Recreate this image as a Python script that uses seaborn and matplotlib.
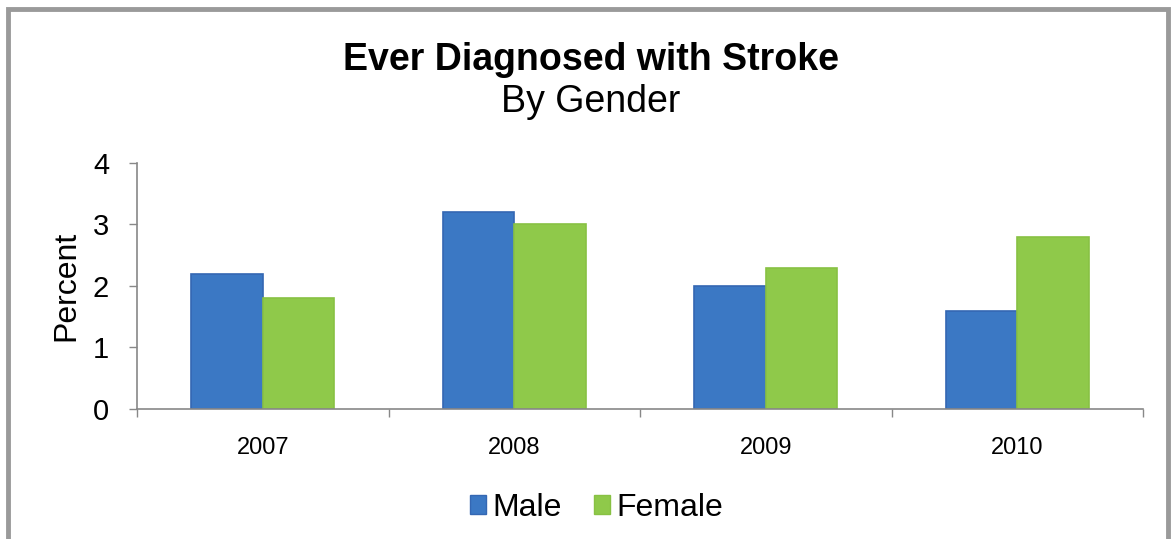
#!/usr/bin/env python3

import pandas as pd
import matplotlib.pyplot as plt
import matplotlib.patches as patches
import seaborn as sns

# Chart data
years = ["2007", "2008", "2009", "2010"]
male = [2.2, 3.2, 2.0, 1.6]
female = [1.8, 3.0, 2.3, 2.8]
y_ticks = [0, 1, 2, 3, 4]


def build_frame():
    """Long-form table for seaborn"""
    rows = []
    for yr, m, f in zip(years, male, female):
        rows.append({"Year": yr, "Gender": "Male", "Percent": m})
        rows.append({"Year": yr, "Gender": "Female", "Percent": f})
    return pd.DataFrame(rows)


def main():
    sns.set_style("white")
    plt.rcParams['font.family'] = ['Liberation Sans', 'DejaVu Sans']
    plt.rcParams['text.color'] = 'black'
    plt.rcParams['axes.labelcolor'] = 'black'
    plt.rcParams['xtick.color'] = 'black'
    plt.rcParams['ytick.color'] = 'black'

    df = build_frame()

    fig = plt.figure(figsize=(11.74, 5.39), dpi=100)
    ax = fig.add_axes([0.1167, 0.2412, 0.8569, 0.4564])

    palette = {"Male": "#3b78c4", "Female": "#8fc94a"}
    sns.barplot(data=df, x="Year", y="Percent", hue="Gender", order=years,
                hue_order=["Male", "Female"], palette=palette, width=0.57,
                saturation=1, ax=ax, legend=False)

    # slightly darker outline on the bars
    edge = {"Male": "#3467b3", "Female": "#88c143"}
    for container, g in zip(ax.containers, ["Male", "Female"]):
        for bar in container:
            bar.set_edgecolor(edge[g])
            bar.set_linewidth(1.2)

    ax.set_xlim(-0.5, len(years) - 0.5)
    ax.set_ylim(0, 4)
    ax.set_yticks(y_ticks)
    ax.set_xlabel("")
    ax.set_ylabel("Percent", fontsize=23, labelpad=8)

    # ticks at category boundaries on the x axis
    ax.set_xticks([i - 0.5 for i in range(len(years) + 1)], minor=True)
    ax.tick_params(axis="x", which="major", length=0, labelsize=17, pad=20,
                   bottom=True)
    ax.tick_params(axis="x", which="minor", length=6, width=1,
                   color="#888888", direction="out", bottom=True)
    ax.tick_params(axis="y", length=6, width=1, color="#888888",
                   direction="out", labelsize=21, pad=14, left=True)

    sns.despine(ax=ax)
    for side in ["left", "bottom"]:
        ax.spines[side].set_color("#888888")
        ax.spines[side].set_linewidth(1.2)

    fig.text(0.503, 0.889, "Ever Diagnosed with Stroke", ha="center",
             va="center", fontsize=27, fontweight="bold")
    fig.text(0.503, 0.810, "By Gender", ha="center", va="center", fontsize=27)

    handles = [patches.Patch(facecolor=palette[g], edgecolor=edge[g], label=g)
               for g in ["Male", "Female"]]
    fig.legend(handles=handles, loc="center", bbox_to_anchor=(0.508, 0.058),
               ncol=2, frameon=False, fontsize=23, handlelength=0.5,
               handleheight=0.5, handletextpad=0.2, columnspacing=1.0)

    # grey frame around the picture
    frame = patches.Rectangle((0.0065, -0.05), 0.988, 1.033,
                              transform=fig.transFigure, fill=False,
                              edgecolor="#9a9a9a", linewidth=3.5)
    fig.patches.append(frame)

    fig.savefig("out.png", dpi=100)
    plt.close(fig)


if __name__ == "__main__":
    main()
